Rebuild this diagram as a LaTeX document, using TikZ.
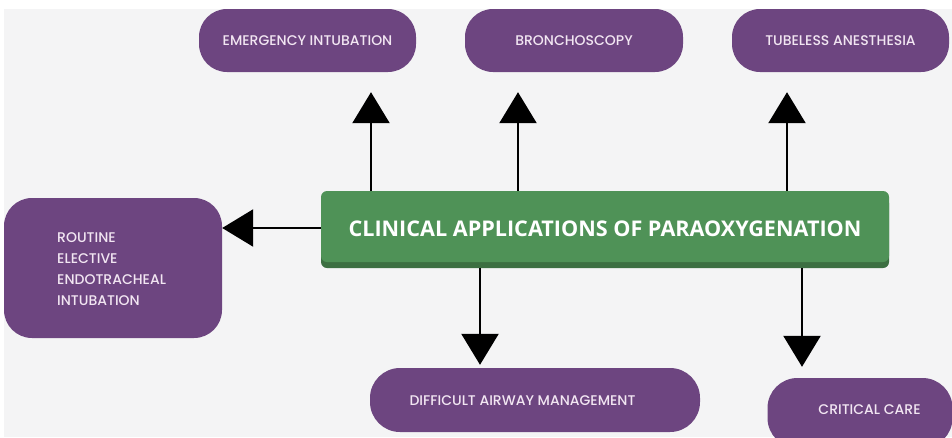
\documentclass[tikz,border=0pt]{standalone}
\usepackage{fontspec}
\setmainfont{Poppins Medium}
\newfontfamily\titlefont{Open Sans}
\usetikzlibrary{arrows.meta}
\definecolor{bgc}{HTML}{F4F4F5}
\definecolor{appc}{HTML}{6D4580}
\definecolor{apptext}{HTML}{F2E6F2}
\definecolor{hubc}{HTML}{4F9257}
\definecolor{hubshade}{HTML}{3C6F42}
\tikzset{
  x=1pt, y=-1pt,
  appbox/.style={fill=appc, text=apptext, rounded corners=28pt, inner sep=0pt,
    font=\fontsize{14}{16}\selectfont},
  apptextonly/.style={text=apptext, inner sep=0pt, font=\fontsize{14}{16}\selectfont},
  hubbox/.style={fill=hubc, rounded corners=6pt, inner sep=0pt},
  hubtext/.style={text=white, inner sep=0pt,
    font=\titlefont\bfseries\fontsize{21.6}{24}\selectfont},
  link/.style={line width=2.4pt, -{Triangle[width=37pt,length=31pt]}},
}
\begin{document}
\begin{tikzpicture}
\useasboundingbox (0,0) rectangle (952,437);
\fill[white] (0,0) rectangle (952,437);
\fill[bgc] (4,9) rectangle (952,437);

% central topic with its darker lower edge
\fill[hubshade, rounded corners=6pt] (321,197) rectangle (889,268);
\node[hubbox, minimum width=568pt, minimum height=71pt] (hub) at (605,226.5) {};
\node[hubtext] (title) at (605,229) {CLINICAL APPLICATIONS OF PARAOXYGENATION};

% applications
\node[appbox, minimum width=217pt, minimum height=63pt] (emerg) at (307.5,40.5) {EMERGENCY INTUBATION};
\node[appbox, minimum width=218pt, minimum height=63pt] (bronch) at (574,40.5) {BRONCHOSCOPY};
\node[appbox, minimum width=217pt, minimum height=63pt] (tubeless) at (840.5,40.5) {TUBELESS ANESTHESIA};

\node[appbox, minimum width=218pt, minimum height=140pt] (routine) at (113,268) {};
\node[apptextonly, anchor=west, align=left, font=\fontsize{14}{20.8}\selectfont] (routinetext) at (57,269)
  {ROUTINE\\ELECTIVE\\ENDOTRACHEAL\\INTUBATION};

\node[appbox, rounded corners=30pt, minimum width=330pt, minimum height=64pt] (difficult) at (535,400) {};
\node[apptextonly] (difficulttext) at (522.5,401) {DIFFICULT AIRWAY MANAGEMENT};

\begin{scope}
  \clip (0,0) rectangle (952,437);
  \node[appbox, rounded corners=30pt, minimum width=185pt, minimum height=70pt] (critical) at (860,413) {};
\end{scope}
\node[apptextonly] (criticaltext) at (869.5,410) {CRITICAL CARE};

% connector columns
\coordinate (c1) at (371,0);
\coordinate (c2) at (518,0);
\coordinate (c3) at (787,0);
\coordinate (c4) at (480,0);
\coordinate (c5) at (802,0);
\coordinate (r1) at (0,228);

\draw[link, shorten >=20pt] (hub.north -| c1) -- (emerg.south -| c1);
\draw[link, shorten >=20pt] (hub.north -| c2) -- (bronch.south -| c2);
\draw[link, shorten >=20pt] (hub.north -| c3) -- (tubeless.south -| c3);
\draw[link] (hub.west |- r1) -- (routine.east |- r1);
\draw[link, shorten >=3pt] (hub.south -| c4) ++(0,6) -- (difficult.north -| c4);
\draw[link, shorten >=11pt] (hub.south -| c5) ++(0,6) -- (critical.north -| c5);
\end{tikzpicture}
\end{document}
